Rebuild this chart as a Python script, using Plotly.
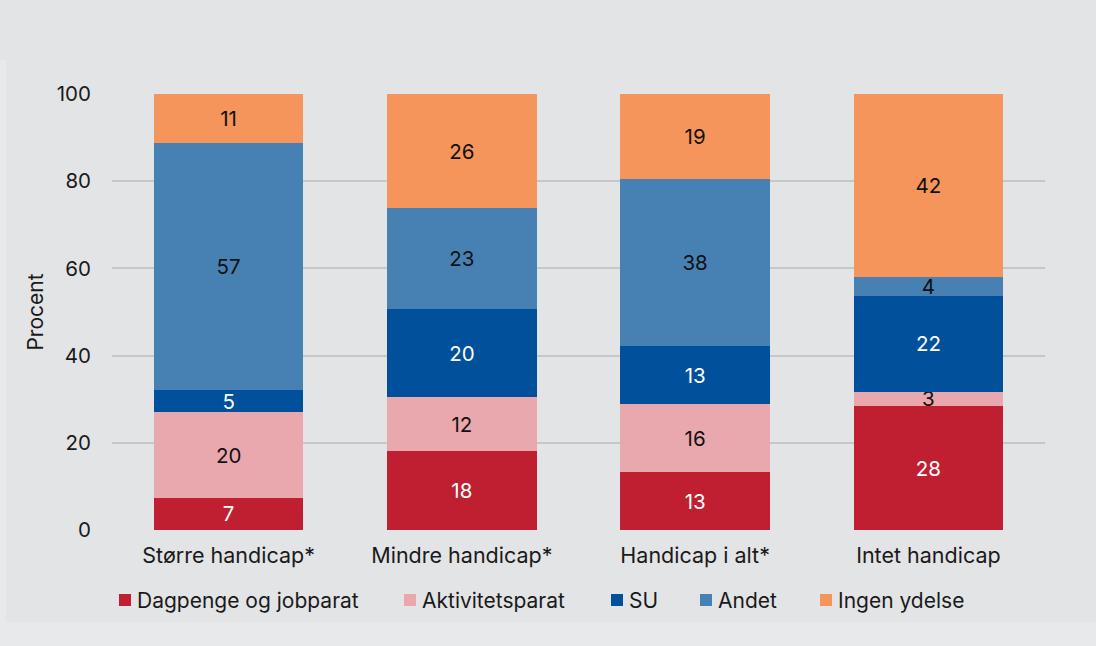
import plotly.graph_objects as go

categories = ["Større handicap*", "Mindre handicap*", "Handicap i alt*", "Intet handicap"]
series_names = ["Dagpenge og jobparat", "Aktivitetsparat", "SU", "Andet", "Ingen ydelse"]
dagpenge = [7.4, 18.1, 13.2, 28.4]
aktivitet = [19.6, 12.3, 15.6, 3.3]
su = [5.1, 20.2, 13.4, 22.0]
andet = [56.7, 23.2, 38.4, 4.3]
ingen = [11.2, 26.2, 19.4, 42.0]
y_ticks = [0, 20, 40, 60, 80, 100]

series_values = [dagpenge, aktivitet, su, andet, ingen]
colors = ["#c01f32", "#e8a8ad", "#00509b", "#4781b4", "#f5955b"]
text_colors = ["white", "#111111", "white", "#111111", "#111111"]

# layout constants (pixels)
W, H = 1096, 646
L, R, T, B = 112, 51, 94, 116
PW, PH = W - L - R, H - T - B
legend_px = [119, 404, 611, 700, 820]   # left edge of each legend square
legend_cy = 600
BG = "#e3e4e6"
FRAME = "#e8e9eb"

FONT = "Inter"
TXT = "#1a1a1a"
fig = go.Figure()
for name, vals, col, tcol in zip(series_names, series_values, colors, text_colors):
    fig.add_trace(go.Bar(
        x=categories, y=vals, name=name,
        marker=dict(color=col, line=dict(width=0)),
        texttemplate="%{y:.0f}", textposition="inside", insidetextanchor="middle",
        textangle=0,
        textfont=dict(family=FONT, size=20.5, color=tcol),
        hoverinfo="skip", showlegend=False,
    ))

def px2x(px):
    return (px - L) / PW

def py2y(py):
    return (H - B - py) / PH

shapes = [
    # lighter frame strips at left and bottom edges
    dict(type="rect", xref="paper", yref="paper", x0=px2x(0), x1=px2x(6),
         y0=py2y(H), y1=py2y(60), fillcolor=FRAME, line=dict(width=0), layer="below"),
    dict(type="rect", xref="paper", yref="paper", x0=px2x(0), x1=px2x(W),
         y0=py2y(H), y1=py2y(622), fillcolor=FRAME, line=dict(width=0), layer="below"),
]
annotations = []
for name, col, lx in zip(series_names, colors, legend_px):
    shapes.append(dict(
        type="rect", xref="paper", yref="paper",
        x0=px2x(lx), x1=px2x(lx + 12),
        y0=py2y(legend_cy + 6), y1=py2y(legend_cy - 6),
        fillcolor=col, line=dict(width=0), layer="above",
    ))
    annotations.append(dict(
        text=name, xref="paper", yref="paper",
        x=px2x(lx + 16), y=py2y(legend_cy),
        xanchor="left", yanchor="middle", showarrow=False,
        font=dict(family=FONT, size=21, color=TXT),
    ))

fig.update_layout(
    barmode="stack",
    bargap=0.36,
    width=W, height=H,
    paper_bgcolor=BG,
    plot_bgcolor=BG,
    margin=dict(l=L, r=R, t=T, b=B),
    font=dict(family=FONT, size=21, color=TXT),
    uniformtext=dict(minsize=20, mode="show"),
    showlegend=False,
    shapes=shapes,
    annotations=annotations,
    xaxis=dict(
        showgrid=False, showline=False, zeroline=False,
        tickfont=dict(family=FONT, size=21.5, color=TXT),
        ticklabelstandoff=10,
    ),
    yaxis=dict(
        range=[0, 100], tickvals=y_ticks,
        showgrid=True, gridcolor="#c6c7c9", gridwidth=1.5,
        zeroline=False, showline=False,
        tickfont=dict(family=FONT, size=20.5, color=TXT),
        ticklabelstandoff=20,
        title=dict(text="Procent", font=dict(family=FONT, size=21, color=TXT), standoff=7),
    ),
)

fig.write_html(
    "out.html",
    config={"displayModeBar": False},
    post_script="document.body.style.margin='0';document.body.style.background='#e3e4e6';",
)
